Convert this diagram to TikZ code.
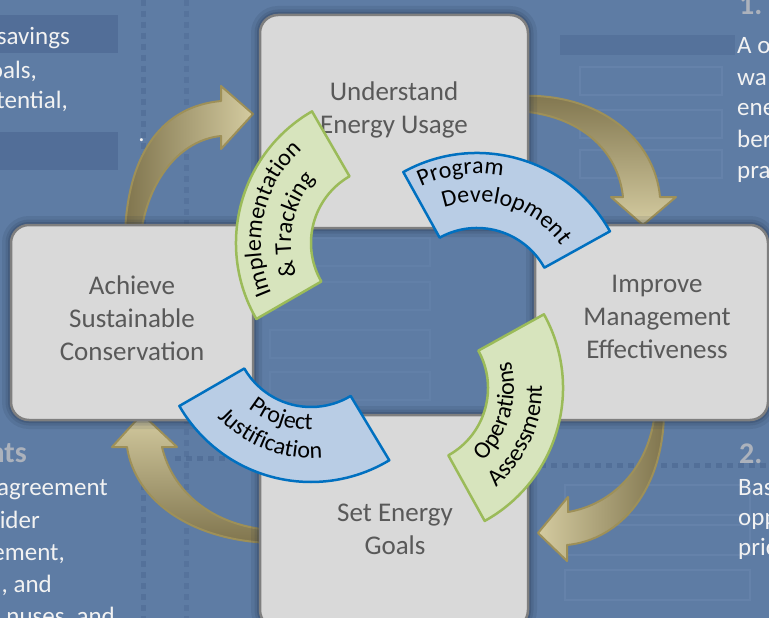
\documentclass[tikz,border=0pt]{standalone}
\usepackage{fontspec}
\setmainfont{Carlito}
\usetikzlibrary{positioning,calc,decorations.text}
\definecolor{bgblue}{RGB}{94,124,164}
\definecolor{bgdark}{RGB}{82,110,152}
\definecolor{bgline}{RGB}{72,100,142}
\definecolor{bglight}{RGB}{118,146,184}
\definecolor{boxfill}{RGB}{217,217,217}
\definecolor{boxline}{RGB}{127,127,127}
\definecolor{boxtxt}{RGB}{89,89,89}
\definecolor{greenfill}{RGB}{215,228,189}
\definecolor{greenline}{RGB}{155,187,89}
\definecolor{bluefill}{RGB}{185,205,229}
\definecolor{blueline}{RGB}{0,112,192}
\definecolor{golddark}{RGB}{128,117,78}
\definecolor{goldlight}{RGB}{212,203,160}
\definecolor{goldline}{RGB}{158,144,88}
\definecolor{headgray}{RGB}{172,178,188}
\definecolor{shadowcol}{RGB}{25,38,60}
\def\ro{152pt}
\def\ri{77pt}
\tikzstyle{box}=[draw=boxline,fill=boxfill,line width=2.5pt,rounded corners=18pt,inner sep=0pt,
  preaction={draw=shadowcol,line width=18pt,opacity=0.10},
  preaction={draw=shadowcol,line width=11pt,opacity=0.12},
  preaction={draw=shadowcol,line width=6pt,opacity=0.18}]
\tikzstyle{boxtext}=[text=boxtxt,font=\fontsize{27}{33}\selectfont,align=center]
\tikzstyle{greenarc}=[draw=greenline,fill=greenfill,line width=2.5pt,line join=round]
\tikzstyle{bluearc}=[draw=blueline,fill=bluefill,line width=2.5pt,line join=round]
\tikzstyle{goldarrow}=[draw=goldline,line width=2pt,line join=round]
\tikzstyle{sidetext}=[text=white!95!black,font=\fontsize{25}{31}\selectfont,inner sep=0pt]
\tikzstyle{sidehead}=[text=headgray,font=\bfseries\fontsize{30}{36}\selectfont,inner sep=0pt]
\newcommand{\arcfont}{\fontsize{24}{28}\selectfont}
\newcommand{\newBlockArc}[4]{\path[#1] ($(#2)+(#3:\ro)$) arc[start angle=#3,end angle=#4,radius=\ro]
  -- ($(#2)+(#4:\ri)$) arc[start angle=#4,end angle=#3,radius=\ri] -- cycle;}
\newcommand{\newArcText}[5]{\path[decorate,decoration={text along path,text align=center,
  text={|\arcfont|#5}}] ($(#1)+(#2:#4)$) arc[start angle=#2,end angle=#3,radius=#4];}
\begin{document}
\begin{tikzpicture}[x=1pt,y=-1pt]
  \useasboundingbox (0,0) rectangle (769,618);
  \clip (0,0) rectangle (769,618);
  % background slide
  \fill[bgblue] (0,0) rectangle (769,618);
  \fill[bgdark] (0,15) rectangle (118,53);
  \fill[bgdark] (0,132) rectangle (118,170);
  \fill[bgdark,opacity=0.7] (560,35) rectangle (735,55);
  \draw[bgline,line width=5pt,dash pattern=on 6pt off 5pt,opacity=0.45] (143,0) -- (143,618);
  \draw[bgline,line width=5pt,dash pattern=on 6pt off 5pt,opacity=0.35] (186,0) -- (186,618);
  \draw[bgline,line width=5pt,dash pattern=on 6pt off 5pt,opacity=0.5] (540,465) -- (769,465);
  \draw[bgline,line width=5pt,dash pattern=on 6pt off 5pt,opacity=0.5] (175,458) -- (260,458);
  \foreach \y in {67,110,150} \draw[bglight,line width=2pt,opacity=0.3] (580,\y) rectangle (722,\y+28);
  \foreach \y in {485,525,570} \draw[bglight,line width=2pt,opacity=0.3] (565,\y) rectangle (750,\y+30);
  \foreach \y in {238,282,330,372} \draw[bglight,line width=2pt,opacity=0.2] (270,\y) rectangle (430,\y+28);
  % side texts
  \node[sidetext,anchor=base east] (savingsLine) at (70,45) {savings};
  \node[sidetext,anchor=base east] (goalsLine) at (37,78) {oals,};
  \node[sidetext,anchor=base east] (potentialLine) at (68,109) {tential,};
  \node[sidetext,anchor=base east] (dotLine) at (145,141) {.};
  \node[sidehead,anchor=base west] (stepOne) at (739,15) {1.};
  \node[sidetext,anchor=base west] (oneA) at (737,54) {A o};
  \node[sidetext,anchor=base west] (oneB) at (737,85) {wa};
  \node[sidetext,anchor=base west] (oneC) at (737,116) {ene};
  \node[sidetext,anchor=base west] (oneD) at (737,147) {ber};
  \node[sidetext,anchor=base west] (oneE) at (737,178) {pra};
  \node[sidehead,anchor=base east] (ntsHead) at (27,462) {nts};
  \node[sidetext,anchor=base east] (ntsA) at (108,495) {agreement};
  \node[sidetext,anchor=base east] (ntsB) at (40,528) {ider};
  \node[sidetext,anchor=base east] (ntsC) at (65,560) {ement,};
  \node[sidetext,anchor=base east] (ntsD) at (52,592) {, and};
  \node[sidetext,anchor=base east] (ntsE) at (115,624) {nuses, and};
  \node[sidehead,anchor=base west] (stepTwo) at (739,463) {2.};
  \node[sidetext,anchor=base west] (twoA) at (738,495) {Bas};
  \node[sidetext,anchor=base west] (twoB) at (738,525) {opp};
  \node[sidetext,anchor=base west] (twoC) at (738,555) {pric};
  % curved arrows between the steps
  \path[goldarrow,left color=golddark,right color=goldlight] (125,234) .. controls (128,150) and (165,106) .. (221,101)
    -- (221,86) -- (253,114) -- (221,149) -- (221,136) .. controls (180,140) and (148,180) .. (141,234) -- cycle;
  \path[goldarrow,top color=golddark,bottom color=goldlight] (518,96) .. controls (600,92) and (655,140) .. (660,197)
    -- (676,197) -- (643,225) -- (611,197) -- (623,197) .. controls (618,150) and (580,115) .. (518,111) -- cycle;
  \path[goldarrow,right color=golddark,left color=goldlight] (664,410) .. controls (664,490) and (620,540) .. (567,545)
    -- (567,561) -- (538,533) -- (568,497) -- (568,512) .. controls (610,505) and (650,470) .. (655,410) -- cycle;
  \path[goldarrow,bottom color=golddark,top color=goldlight] (270,543) .. controls (190,540) and (135,500) .. (127,447)
    -- (112,447) -- (142,414) -- (177,447) -- (162,447) .. controls (172,490) and (210,525) .. (270,530) -- cycle;
  % the four steps
  \node[box,minimum width=268pt,minimum height=213pt] (usage) at (394,121.5) {};
  \node[box,minimum width=242pt,minimum height=195pt] (achieve) at (132,322.5) {};
  \node[box,minimum width=233pt,minimum height=195pt] (improve) at (651.5,322.5) {};
  \node[box,minimum width=268pt,minimum height=213pt] (goals) at (394,521.5) {};
  \node[boxtext] (usageText) at (394,110) {Understand\\Energy Usage};
  \node[boxtext] (achieveText) at (132,318) {Achieve\\Sustainable\\Conservation};
  \node[boxtext] (improveText) at (657,317) {Improve\\Management\\Effectiveness};
  \node[boxtext] (goalsText) at (395,529) {Set Energy\\Goals};
  % block arcs with their labels
  \coordinate (impl) at (388,243);
  \coordinate (prog) at (477,305);
  \coordinate (oper) at (411,388);
  \coordinate (proj) at (311,330);
  \newBlockArc{greenarc}{impl}{120}{210}
  \newBlockArc{bluearc}{prog}{29}{119}
  \newBlockArc{greenarc}{oper}{-61}{29}
  \newBlockArc{bluearc}{proj}{210}{301}
  \newArcText{impl}{213}{123}{127pt}{Implementation}
  \newArcText{impl}{214}{124}{97pt}{{\&} Tracking}
  \newArcText{prog}{142}{52}{131pt}{Program}
  \newArcText{prog}{117}{27}{103pt}{Development}
  \newArcText{oper}{-60}{30}{103pt}{Operations}
  \newArcText{oper}{-69}{21}{131pt}{Assessment}
  \newArcText{proj}{206}{296}{100pt}{Project}
  \newArcText{proj}{204}{294}{128pt}{Justification}
\end{tikzpicture}
\end{document}
